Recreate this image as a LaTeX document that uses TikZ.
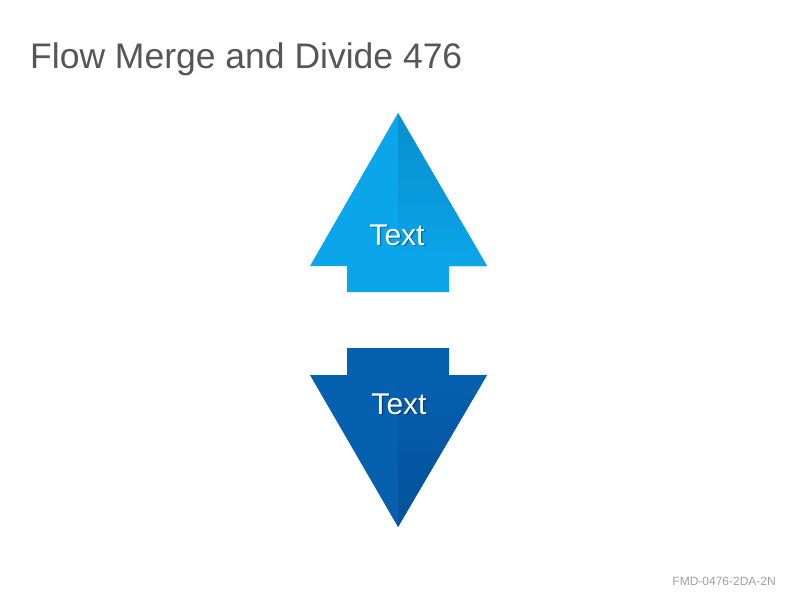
\documentclass[tikz,border=0pt]{standalone}
\usepackage{fontspec}
\setmainfont{Liberation Sans}
\usetikzlibrary{positioning}
\definecolor{skyLight}{HTML}{0BA6EA}
\definecolor{skyDark}{HTML}{0890D0}
\definecolor{navyLight}{HTML}{0660B0}
\definecolor{navyDark}{HTML}{04529B}
\definecolor{titleGray}{HTML}{565656}
\definecolor{codeGray}{HTML}{A0A0A0}
\tikzstyle{arrowText}=[text=white, inner sep=0pt, font=\fontsize{30}{30}\selectfont]
\tikzstyle{arrowShadow}=[text=black, opacity=0.3, inner sep=0pt, font=\fontsize{30}{30}\selectfont]
\tikzstyle{title}=[text=titleGray, anchor=base west, inner sep=0pt, font=\fontsize{35.5}{36}\selectfont]
\tikzstyle{code}=[text=codeGray, anchor=base east, inner sep=0pt, font=\fontsize{12}{12}\selectfont]

\begin{document}
\begin{tikzpicture}[x=1pt, y=-1pt]
    \useasboundingbox[fill=white] (0, 0) rectangle (800, 600);

    % up arrow
    \fill[skyLight] (310, 266) -- (398, 113) -- (487, 266) -- (449, 266) -- (449, 292)
        -- (347, 292) -- (347, 266) -- cycle;
    \shade[top color=skyDark, bottom color=skyLight, middle color=skyDark!60!skyLight]
        (398, 113) -- (487, 266) -- (398, 266) -- cycle;

    % down arrow
    \fill[navyLight] (347, 348) -- (449, 348) -- (449, 375) -- (487, 375) -- (398, 527)
        -- (310, 375) -- (347, 375) -- cycle;
    \shade[top color=navyLight, bottom color=navyDark, middle color=navyDark!60!navyLight]
        (398, 375) -- (487, 375) -- (398, 527) -- cycle;

    \node[arrowShadow] (upShadow) at (398.5, 236.5) {Text};
    \node[arrowText] (up) at (397, 235) {Text};
    \node[arrowShadow] (downShadow) at (400.5, 405.5) {Text};
    \node[arrowText] (down) at (399, 404) {Text};

    \node[title] (heading) at (30, 68) {Flow Merge and Divide 476};
    \node[code] (ref) at (776, 585) {FMD-0476-2DA-2N};
\end{tikzpicture}
\end{document}
